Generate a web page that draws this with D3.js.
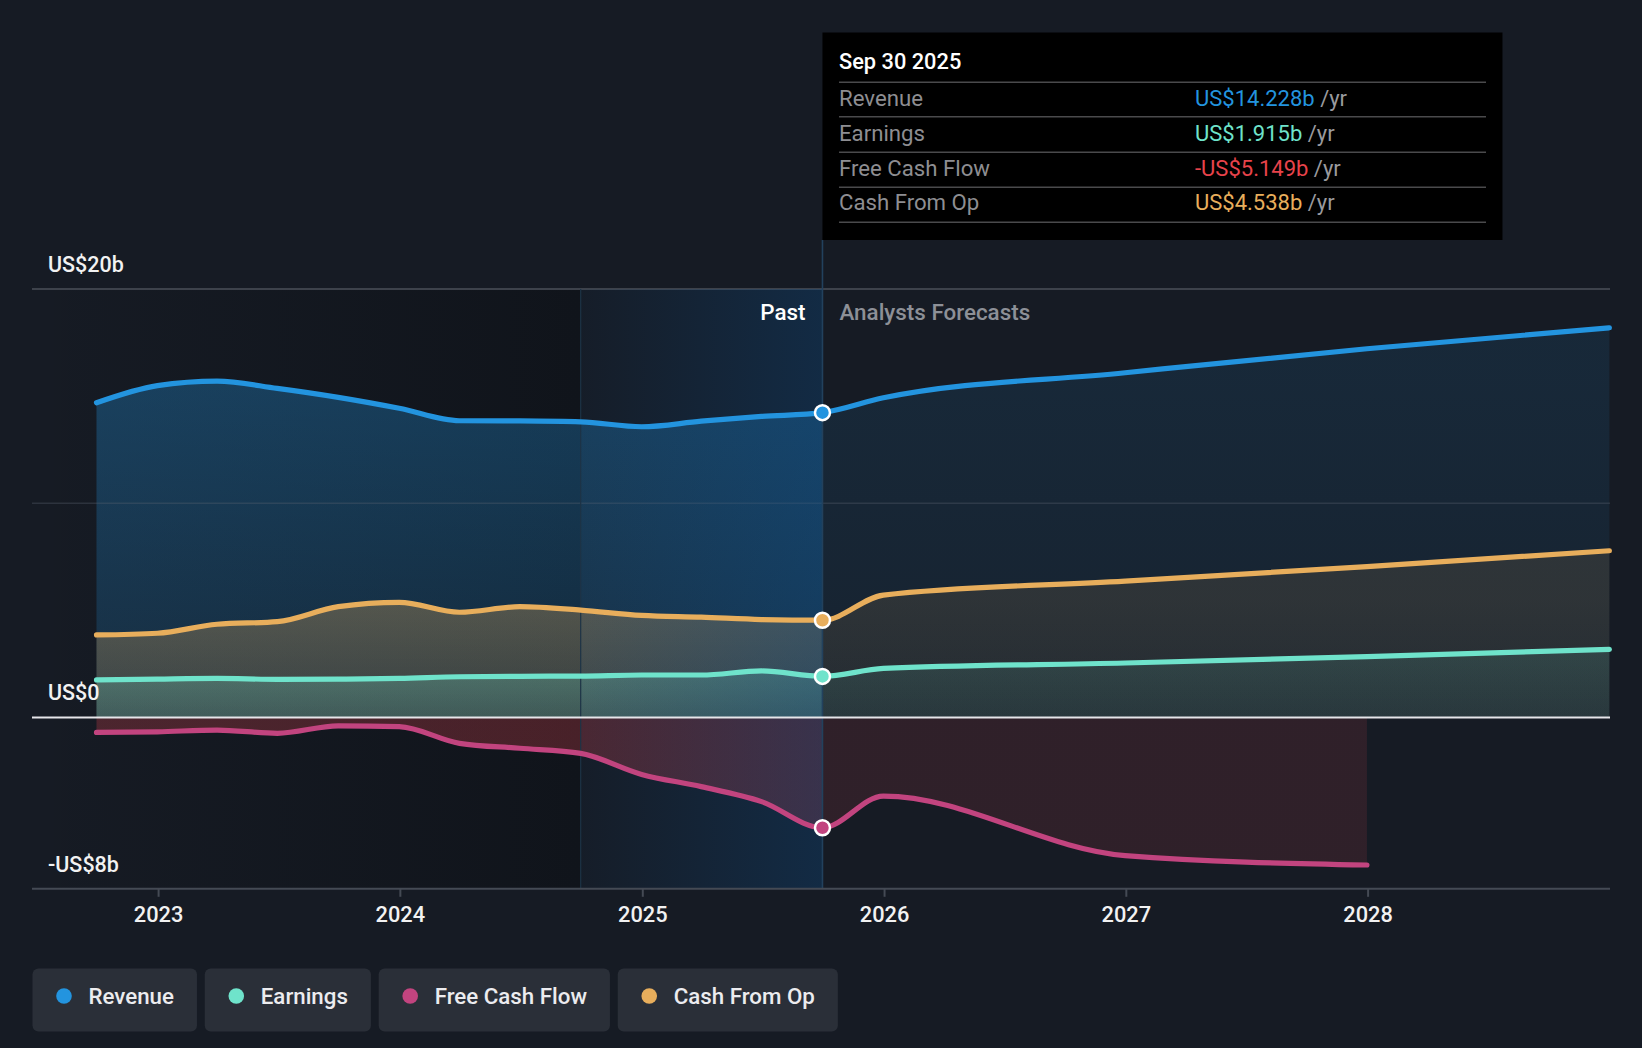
<!DOCTYPE html>
<html>
<head>
<meta charset="utf-8">
<script src="https://cdn.jsdelivr.net/npm/d3@7"></script>
<style>
  html, body { margin: 0; padding: 0; background: #161b24; }
  svg { display: block; font-family: Roboto, "Noto Sans", sans-serif; }
</style>
</head>
<body>
<svg id="chart" width="1642" height="1048"></svg>
<script>
// ---------- data ----------
const pastDates = ["2022-09-30","2022-12-31","2023-03-31","2023-06-30","2023-09-30","2023-12-31","2024-03-31","2024-06-30","2024-09-30","2024-12-31","2025-03-31","2025-06-30","2025-09-30"];
const forecastDates = ["2025-12-31","2026-12-31","2027-12-31","2028-12-31"];

const revenuePast   = [14.69, 15.49, 15.70, 15.36, 14.94, 14.43, 13.85, 13.84, 13.80, 13.57, 13.83, 14.05, 14.228];
const earningsPast  = [1.75, 1.79, 1.82, 1.78, 1.79, 1.82, 1.90, 1.92, 1.93, 1.98, 1.98, 2.17, 1.915];
const fcfPast       = [-0.70, -0.67, -0.59, -0.74, -0.39, -0.43, -1.21, -1.44, -1.68, -2.66, -3.23, -3.93, -5.149];
const cfoPast       = [3.85, 3.93, 4.35, 4.47, 5.17, 5.37, 4.91, 5.17, 5.01, 4.76, 4.68, 4.57, 4.538];

const revenueForecast  = [14.92, 16.09, 17.21, 18.19];
const earningsForecast = [2.29, 2.54, 2.84, 3.18];
const fcfForecast      = [-3.67, -6.45, -6.89];
const cfoForecast      = [5.71, 6.36, 7.04, 7.78];

const yTicks = [20, 0, -8];
const yTickLabels = ["US$20b", "US$0", "-US$8b"];
const xTickYears = [2023, 2024, 2025, 2026, 2027, 2028];

const seriesNames  = ["Revenue", "Earnings", "Free Cash Flow", "Cash From Op"];
const seriesColors = ["#2394df", "#6fe3cb", "#c2447f", "#e8ae5c"];
const tooltipDate = "Sep 30 2025";
const tooltipValues = ["US$14.228b", "US$1.915b", "-US$5.149b", "US$4.538b"];
const tooltipValueColors = ["#2394df", "#6fe3cb", "#e8434b", "#e8ae5c"];
const highlightStart = "2024-09-30";
const nowDate = "2025-09-30";

// ---------- helpers ----------
const parse = d3.timeParse("%Y-%m-%d");
function build(dates, vals) { return vals.map((v, i) => ({ date: parse(dates[i]), v })); }
const series = [
  build(pastDates, revenuePast).concat(build(forecastDates, revenueForecast)),
  build(pastDates, earningsPast).concat(build(forecastDates, earningsForecast)),
  build(pastDates, fcfPast).concat(build(forecastDates, fcfForecast)),
  build(pastDates, cfoPast).concat(build(forecastDates, cfoForecast)),
];

const svg = d3.select("#chart");
const W = 1642, H = 1048;
const plotLeft = 32, plotRight = 1610;

const x = d3.scaleTime().domain([new Date(2023, 0, 1), new Date(2028, 0, 1)]).range([158.1, 1367.6]);
const y = d3.scaleLinear().domain([-8, 20]).range([888.8, 289]);

const xNow = x(parse(nowDate));
const xHi = x(parse(highlightStart));

svg.append("rect").attr("width", W).attr("height", H).attr("fill", "#161b24");

const defs = svg.append("defs");

const gPast = defs.append("linearGradient").attr("id", "pastDark").attr("x1", 0).attr("x2", 1).attr("y1", 0).attr("y2", 0);
gPast.append("stop").attr("offset", 0).attr("stop-color", "#05070a").attr("stop-opacity", 0.0);
gPast.append("stop").attr("offset", 1).attr("stop-color", "#05070a").attr("stop-opacity", 0.35);

const gHi = defs.append("linearGradient").attr("id", "hiGrad").attr("x1", 0).attr("x2", 1).attr("y1", 0).attr("y2", 0);
gHi.append("stop").attr("offset", 0).attr("stop-color", "#0a5090").attr("stop-opacity", 0.04);
gHi.append("stop").attr("offset", 1).attr("stop-color", "#0a5090").attr("stop-opacity", 0.30);

defs.append("clipPath").attr("id", "clipPast").append("rect")
  .attr("x", 0).attr("y", 0).attr("width", xNow).attr("height", H);
defs.append("clipPath").attr("id", "clipFut").append("rect")
  .attr("x", xNow).attr("y", 0).attr("width", W - xNow).attr("height", H);

const areaTops = [16, 3, -0.001, 5.5];
const areaStyle = [
  { past: [0.32, 0.16], fut: [0.11, 0.06], color: "#2394df" },
  { past: [0.30, 0.16], fut: [0.12, 0.07], color: "#6fe3cb" },
  { past: [0.28, 0.28], fut: [0.13, 0.13], color: "#d8424c" },
  { past: [0.30, 0.16], fut: [0.11, 0.06], color: "#e8ae5c" },
];
areaStyle.forEach((st, i) => {
  ["past", "fut"].forEach(seg => {
    const g = defs.append("linearGradient").attr("id", `ag${i}${seg}`)
      .attr("gradientUnits", "userSpaceOnUse")
      .attr("x1", 0).attr("x2", 0)
      .attr("y1", i === 2 ? y(0) : y(areaTops[i]))
      .attr("y2", i === 2 ? y(-8) : y(0));
    g.append("stop").attr("offset", 0).attr("stop-color", st.color).attr("stop-opacity", st[seg][0]);
    g.append("stop").attr("offset", 1).attr("stop-color", st.color).attr("stop-opacity", st[seg][1]);
  });
});

svg.append("rect").attr("x", plotLeft).attr("y", y(20)).attr("width", xHi - plotLeft)
  .attr("height", y(-8) - y(20)).attr("fill", "url(#pastDark)");

svg.append("line").attr("x1", plotLeft).attr("x2", plotRight)
  .attr("y1", y(20)).attr("y2", y(20)).attr("stroke", "#3d424b").attr("stroke-width", 2);

const area = d3.area().x(d => x(d.date)).y0(y(0)).y1(d => y(d.v)).curve(d3.curveMonotoneX);
const drawOrder = [0, 3, 1, 2];
drawOrder.forEach(i => {
  svg.append("path").attr("d", area(series[i])).attr("fill", `url(#ag${i}past)`).attr("clip-path", "url(#clipPast)");
  svg.append("path").attr("d", area(series[i])).attr("fill", `url(#ag${i}fut)`).attr("clip-path", "url(#clipFut)");
});

svg.append("line").attr("x1", plotLeft).attr("x2", plotRight)
  .attr("y1", y(10)).attr("y2", y(10)).attr("stroke", "#5a6270").attr("stroke-opacity", 0.35).attr("stroke-width", 1.5);

svg.append("rect").attr("x", xHi).attr("y", y(20)).attr("width", xNow - xHi)
  .attr("height", y(-8) - y(20)).attr("fill", "url(#hiGrad)");
svg.append("line").attr("x1", xHi).attr("x2", xHi).attr("y1", y(20)).attr("y2", y(-8))
  .attr("stroke", "#1d3346").attr("stroke-width", 1.2);

svg.append("line").attr("x1", xNow).attr("x2", xNow).attr("y1", 240).attr("y2", y(-8))
  .attr("stroke", "#22415d").attr("stroke-width", 1.6);

svg.append("line").attr("x1", plotLeft).attr("x2", plotRight)
  .attr("y1", y(0)).attr("y2", y(0)).attr("stroke", "#e6e6ea").attr("stroke-width", 2);

const line = d3.line().x(d => x(d.date)).y(d => y(d.v)).curve(d3.curveMonotoneX);
drawOrder.forEach(i => {
  svg.append("path").attr("d", line(series[i])).attr("fill", "none")
    .attr("stroke", seriesColors[i]).attr("stroke-width", 5.2)
    .attr("stroke-linecap", "round").attr("stroke-linejoin", "round");
});

[0, 3, 1, 2].forEach(i => {
  const p = series[i].find(d => +d.date === +parse(nowDate));
  svg.append("circle").attr("cx", x(p.date)).attr("cy", y(p.v)).attr("r", 7.5)
    .attr("fill", seriesColors[i]).attr("stroke", "#ffffff").attr("stroke-width", 2.5);
});

const xAxis = d3.axisBottom(x)
  .tickValues(xTickYears.map(yr => new Date(yr, 0, 1)))
  .tickFormat(d3.timeFormat("%Y"))
  .tickSize(8).tickPadding(10);
const gx = svg.append("g").attr("transform", `translate(0,${y(-8)})`).call(xAxis);
gx.select(".domain").remove();
gx.selectAll(".tick line").attr("stroke", "#444a54").attr("stroke-width", 2);
gx.selectAll(".tick text").attr("fill", "#f2f2f2").attr("font-size", 21.8)
  .attr("font-family", "Roboto, sans-serif").attr("font-weight", 500);
svg.append("line").attr("x1", plotLeft).attr("x2", plotRight)
  .attr("y1", y(-8)).attr("y2", y(-8)).attr("stroke", "#444a54").attr("stroke-width", 2);

yTicks.forEach((v, i) => {
  svg.append("text").attr("x", 48).attr("y", y(v) - 17).attr("fill", "#f2f2f2")
    .attr("font-size", 21.5).attr("font-weight", 500).text(yTickLabels[i]);
});

svg.append("text").attr("x", xNow - 17).attr("y", 320).attr("text-anchor", "end")
  .attr("fill", "#ffffff").attr("font-size", 22.4).attr("font-weight", 500).text("Past");
svg.append("text").attr("x", xNow + 17).attr("y", 320)
  .attr("fill", "#8d9097").attr("font-size", 22.4).attr("font-weight", 500).text("Analysts Forecasts");

const tt = svg.append("g");
tt.append("rect").attr("x", xNow).attr("y", 32.5).attr("width", 680).attr("height", 207.5).attr("fill", "#000000");
tt.append("text").attr("x", 839).attr("y", 69).attr("fill", "#ffffff").attr("font-size", 21.8)
  .attr("font-weight", 500).text(tooltipDate);
const sepY = [82.3, 116.7, 152.3, 187.3, 222.3];
sepY.forEach(sy => tt.append("line").attr("x1", 839).attr("x2", 1486).attr("y1", sy).attr("y2", sy)
  .attr("stroke", "#4a4a4c").attr("stroke-width", 1.6));
const rowBase = [106, 140.5, 175.5, 210];
seriesNames.forEach((n, i) => {
  tt.append("text").attr("x", 839).attr("y", rowBase[i]).attr("fill", "#8e8e92")
    .attr("font-size", 22.2).text(n);
  const t = tt.append("text").attr("x", 1195).attr("y", rowBase[i]).attr("font-size", 22);
  t.append("tspan").attr("fill", tooltipValueColors[i]).text(tooltipValues[i]);
  t.append("tspan").attr("fill", "#9a9a9e").text(" /yr");
});

let lx = 32.5;
seriesNames.forEach((n, i) => {
  const g = svg.append("g");
  const rect = g.append("rect").attr("x", lx).attr("y", 968.5).attr("height", 63).attr("rx", 6).attr("fill", "#2a2f38");
  g.append("circle").attr("cx", lx + 31.5).attr("cy", 996).attr("r", 7.8).attr("fill", seriesColors[i]);
  const t = g.append("text").attr("x", lx + 56).attr("y", 1004).attr("fill", "#ececef")
    .attr("font-size", 22.3).attr("font-weight", 500).text(n);
  const tw = t.node().getComputedTextLength();
  const bw = 56 + tw + 23;
  rect.attr("width", bw);
  lx += bw + 7.8;
});
</script>
</body>
</html>
